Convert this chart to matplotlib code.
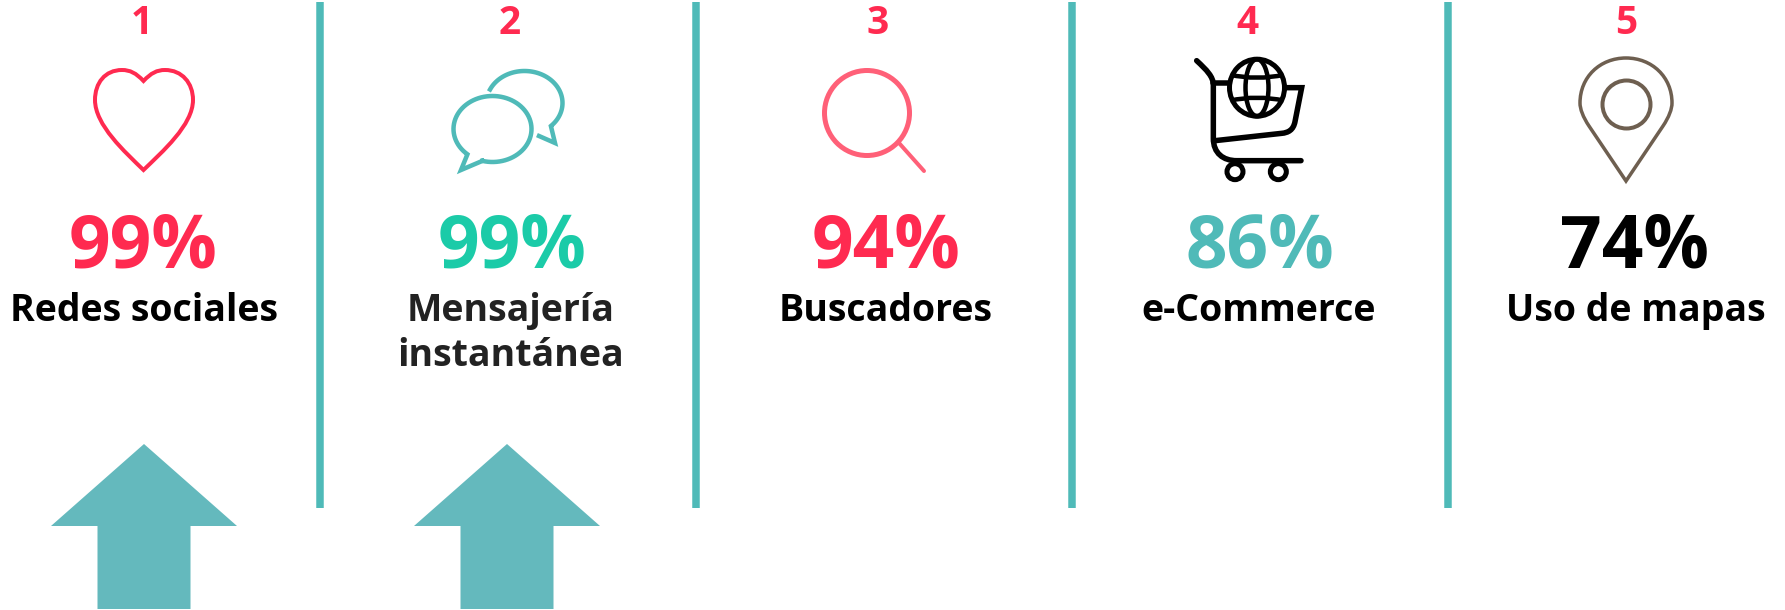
import numpy as np
import matplotlib
matplotlib.use("Agg")
import matplotlib.pyplot as plt
from matplotlib.path import Path
from matplotlib.patches import PathPatch, Ellipse, Polygon

ranks = ["1", "2", "3", "4", "5"]
percents = ["99%", "99%", "94%", "86%", "74%"]
labels = ["Redes sociales", "Mensajería\ninstantánea", "Buscadores", "e-Commerce", "Uso de mapas"]
percent_colors = ["#FF2A50", "#1BCBA8", "#FF2A50", "#4FBAB8", "#000000"]
label_colors = ["#000000", "#222222", "#000000", "#000000", "#000000"]

rank_x = [142, 510, 878, 1247, 1626]
percent_x = [143, 512, 886, 1260, 1635]
label_x = [143.5, 511, 886, 1259, 1636]
sep_x = [319.5, 695.5, 1072, 1448]
arrow_x = [144, 507]

RED = "#FF2A50"
TEAL = "#4FBAB8"
ARROW = "#64B9BD"
PX = 72 / 100  # pixels to points at dpi 100

plt.rcParams["font.family"] = ["Open Sans", "DejaVu Sans"]
fig = plt.figure(figsize=(17.85, 6.10), dpi=100)
ax = fig.add_axes([0, 0, 1, 1])
ax.set_xlim(0, 1785)
ax.set_ylim(610, 0)
ax.axis("off")


def curve(cmds, color, lw, closed=False):
    # cmds: start point then line (2 numbers) / bezier (6 numbers) segments
    verts = [cmds[0]]
    codes = [Path.MOVETO]
    for seg in cmds[1:]:
        if len(seg) == 2:
            verts.append(seg)
            codes.append(Path.LINETO)
        else:
            verts += [seg[:2], seg[2:4], seg[4:]]
            codes += [Path.CURVE4] * 3
    if closed:
        verts.append(cmds[0])
        codes.append(Path.CLOSEPOLY)
    ax.add_patch(PathPatch(Path(verts, codes), fc="none", ec=color, lw=lw * PX,
                           capstyle="round", joinstyle="miter"))


def arc_pts(cx, cy, rx, ry, a0, a1):
    t = np.radians(np.linspace(a0, a1, 80))
    return np.column_stack([cx + rx * np.cos(t), cy + ry * np.sin(t)])


def ring(cx, cy, rx, ry, color, lw):
    ax.add_patch(Ellipse((cx, cy), 2 * rx, 2 * ry, fc="none", ec=color, lw=lw * PX))


# separators
for x in sep_x:
    ax.plot([x, x], [2, 508], color=TEAL, lw=7.5 * PX, solid_capstyle="butt")

# arrows at the bottom
for x in arrow_x:
    ax.add_patch(Polygon([(x, 444), (x + 93, 526), (x + 46.5, 526), (x + 46.5, 609),
                          (x - 46.5, 609), (x - 46.5, 526), (x - 93, 526)],
                         fc=ARROW, ec="none"))

# heart
curve([(143.5, 81), (136, 73, 130, 70, 122, 70), (105, 70, 95, 83, 95, 100),
       (95, 125, 125, 152, 143.5, 170), (162, 152, 193, 125, 193, 100),
       (193, 83, 182, 70, 165, 70), (157, 70, 151, 73, 143.5, 81)], RED, 4, closed=True)

# chat bubbles
front = arc_pts(492.5, 129, 39, 33, 105, -230)
ax.plot(*np.vstack([front, [[461, 170], front[0]]]).T, color=TEAL, lw=4.5 * PX, solid_joinstyle="miter")
back = arc_pts(524.5, 103, 38, 32, -155, 46)
ax.plot(*np.vstack([back, [[555, 143], [539, 136]]]).T, color=TEAL, lw=4.5 * PX, solid_joinstyle="miter")

# magnifier
ring(867, 113, 42.5, 42.5, "#FF6078", 5)
ax.plot([899, 924], [143, 171], color="#FF6078", lw=4 * PX, solid_capstyle="round")

# cart with globe (lines first, globe on top)
cart_x, cart_y = 1170, 40


def c(*pts):
    out = []
    for i in range(0, len(pts), 2):
        out += [cart_x + pts[i] / 3, cart_y + pts[i + 1] / 3]
    return tuple(out)


curve([c(80, 62), c(110, 90, 130, 110, 130, 135), c(130, 295),
       c(130, 340, 160, 362, 200, 362), c(393, 362)], "black", 5.5)
curve([c(130, 130), c(180, 130)], "black", 5.5)
curve([c(345, 143), c(395, 143), c(375, 245), c(370, 270, 355, 278, 335, 280), c(135, 302)], "black", 5.5)
for wx in (195, 325):
    ring(cart_x + wx / 3, cart_y + 395 / 3, 8, 8, "black", 5)

gx, gy, gr = 1257, 87.7, 27.5
globe = Ellipse((gx, gy), 2 * gr, 2 * gr + 2, fc="white", ec="black", lw=5 * PX, zorder=3)
ax.add_patch(globe)
ax.add_patch(Ellipse((gx, gy), 23, 2 * gr + 2, fc="none", ec="black", lw=4.5 * PX, zorder=3))
for dy, sag in ((-10, 3), (10, -3)):
    # parallels, clipped to the globe outline
    line = Path([(gx - gr, gy + dy - sag), (gx, gy + dy + sag), (gx + gr, gy + dy - sag)],
                [Path.MOVETO, Path.CURVE3, Path.CURVE3])
    p = PathPatch(line, fc="none", ec="black", lw=4.5 * PX, zorder=3)
    ax.add_patch(p)
    p.set_clip_path(globe)

# pin
PIN = "#6E5F50"
curve([(1626, 181), (1589, 126), (1583, 117, 1580, 109, 1580, 103),
       (1580, 77, 1600, 58, 1626, 58), (1652, 58, 1672, 77, 1672, 103),
       (1672, 109, 1669, 117, 1663, 126)], PIN, 3.5, closed=True)
ring(1626.5, 104.5, 24, 24, PIN, 4)

# texts
for i in range(len(ranks)):
    ax.text(rank_x[i], 34, ranks[i], ha="center", va="baseline", fontsize=28,
            fontweight="bold", color=RED)
    ax.text(percent_x[i], 268, percents[i], ha="center", va="baseline", fontsize=52.5,
            fontweight="bold", color=percent_colors[i])
    for j, line in enumerate(labels[i].split("\n")):
        ax.text(label_x[i], 321 + j * 45, line, ha="center", va="baseline", fontsize=27,
                fontweight="bold", color=label_colors[i])

fig.savefig("out.png", dpi=100, facecolor="white")
